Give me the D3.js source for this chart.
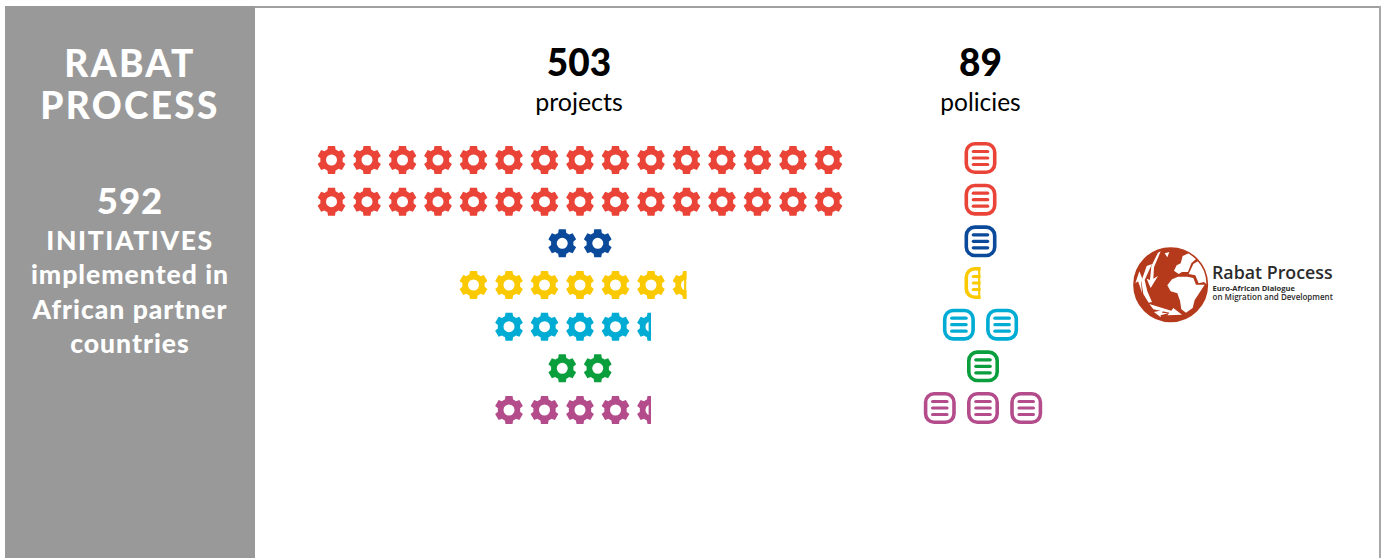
<!DOCTYPE html>
<html>
<head>
<meta charset="utf-8">
<title>Rabat Process</title>
<script src="https://cdn.jsdelivr.net/npm/d3@7"></script>
<style>
  html, body { margin: 0; padding: 0; background: #fff; }
  svg { display: block; }
  text { font-family: Lato, "Open Sans", sans-serif; }
</style>
</head>
<body>
<svg id="chart" width="1387" height="558"></svg>
<script>
  // ============================================================
  // Data
  // ============================================================

  const rows = ["row1", "row2", "row3", "row4", "row5", "row6", "row7"];
  const rowColors = ["#ea4438", "#ea4438", "#0b4a9b", "#fbc900", "#00acd4", "#0a9e3c", "#b44c8c"];
  // icon counts, half icons are cut on the right
  const projectIcons = [15, 15, 2, 6.5, 4.5, 2, 4.5];
  const policyIcons = [1, 1, 1, 0.5, 2, 1, 3];

  const totals = [
    { value: "503", label: "projects" },
    { value: "89", label: "policies" },
  ];
  const panelTitle = ["RABAT", "PROCESS"];
  const panelTotal = "592";
  const panelLines = ["INITIATIVES", "implemented in", "African partner", "countries"];

  // ============================================================
  // Layout
  // ============================================================

  const width = 1387, height = 558;
  const svg = d3.select("#chart");
  const gearStep = 35.5, gearWidth = 27;
  const policyStep = 43.2, policyWidth = 32;

  const gearY = d3.scalePoint().domain(rows).range([160, 410]);
  const policyY = d3.scalePoint().domain(rows).range([158, 408]);

  // slots are centred on the column, a cut icon still takes a full slot
  function slotX(n, centre, step) {
    return d3.scaleLinear().domain([0, 1]).range([centre - (n - 1) * step / 2, centre - (n - 1) * step / 2 + step]);
  }

  function iconSlots(count) {
    const n = Math.ceil(count);
    return d3.range(n).map(i => ({ i, n, part: Math.min(1, count - i) }));
  }

  // ============================================================
  // Icons
  // ============================================================

  function gearPath() {
    const outer = 14, body = 10.4, hole = 5.5, half = 3.5;
    let d = "";
    for (let k = 0; k < 6; k++) {
      const a = -Math.PI / 2 + k * Math.PI / 3;
      const ux = Math.cos(a), uy = Math.sin(a), nx = -uy, ny = ux;
      const foot = half + 0.6;
      const pts = [
        [ux * body - nx * foot, uy * body - ny * foot],
        [ux * outer - nx * half, uy * outer - ny * half],
        [ux * outer + nx * half, uy * outer + ny * half],
        [ux * body + nx * foot, uy * body + ny * foot],
      ];
      d += (k === 0 ? "M" : "L") + pts.map(p => p[0].toFixed(2) + "," + p[1].toFixed(2)).join("L");
      const b = a + Math.PI / 3;
      const next = [Math.cos(b) * body + Math.sin(b) * foot, Math.sin(b) * body - Math.cos(b) * foot];
      d += "A" + body + "," + body + " 0 0 1 " + next[0].toFixed(2) + "," + next[1].toFixed(2);
    }
    d += "Z M" + hole + ",0 A" + hole + "," + hole + " 0 1 0 " + (-hole) + ",0 A" + hole + "," + hole + " 0 1 0 " + hole + ",0 Z";
    return d;
  }

  const gearD = gearPath();

  function drawGear(g, color) {
    g.append("path").attr("d", gearD).attr("fill", color).attr("fill-rule", "evenodd");
  }

  function drawPolicy(g, color) {
    g.append("rect")
      .attr("x", -14.2).attr("y", -14.2)
      .attr("width", 28.4).attr("height", 28.4)
      .attr("rx", 8.5)
      .attr("fill", "#fff")
      .attr("stroke", color)
      .attr("stroke-width", 3.6);
    [-6.5, 0, 6.5].forEach(dy => {
      g.append("line")
        .attr("x1", -7.2).attr("x2", 7.2)
        .attr("y1", dy).attr("y2", dy)
        .attr("stroke", color)
        .attr("stroke-width", 3.2)
        .attr("stroke-linecap", "round");
    });
  }

  let clipCount = 0;
  function drawColumn(counts, yScale, centre, step, iconWidth, drawIcon, xShift) {
    const layer = svg.append("g");
    rows.forEach((row, r) => {
      const slots = iconSlots(counts[r]);
      slots.forEach(s => {
        const x = slotX(s.n, centre + xShift(r), step)(s.i);
        const y = yScale(row);
        const g = layer.append("g").attr("transform", `translate(${x},${y})`);
        if (s.part < 1) {
          const id = "cut" + (clipCount++);
          const cutW = iconWidth * s.part;
          svg.append("clipPath").attr("id", id).append("rect")
            .attr("x", -iconWidth / 2 - 2).attr("y", -20)
            .attr("width", cutW + 2).attr("height", 40);
          g.attr("clip-path", `url(#${id})`);
          drawIcon(g, rowColors[r]);
          // cut icons end in a straight solid edge
          g.append("rect")
            .attr("x", -iconWidth / 2 + cutW - 2.4).attr("y", -iconWidth / 2)
            .attr("width", 2.4).attr("height", iconWidth)
            .attr("fill", rowColors[r]);
        } else {
          drawIcon(g, rowColors[r]);
        }
      });
    });
  }

  // ============================================================
  // Frame and left panel
  // ============================================================

  svg.append("rect").attr("x", 255).attr("y", 6).attr("width", 1126).attr("height", 2).attr("fill", "#a0a0a0");
  svg.append("rect").attr("x", 1379).attr("y", 6).attr("width", 2).attr("height", 552).attr("fill", "#a8a8a8");
  svg.append("rect").attr("x", 5).attr("y", 6).attr("width", 250).attr("height", 552).attr("fill", "#999999");

  const panelX = 130;

  svg.selectAll(".panel-title").data(panelTitle).enter().append("text")
    .attr("class", "panel-title")
    .attr("x", panelX)
    .attr("y", (d, i) => 76.5 + i * 42)
    .attr("text-anchor", "middle")
    .attr("fill", "#fff")
    .attr("font-size", 37)
    .attr("font-weight", 900)
    .attr("letter-spacing", 2.3)
    .text(d => d);

  svg.append("text")
    .attr("x", panelX).attr("y", 214)
    .attr("text-anchor", "middle")
    .attr("fill", "#fff")
    .attr("font-size", 36.5)
    .attr("font-weight", 900)
    .attr("letter-spacing", 1)
    .text(panelTotal);

  svg.selectAll(".panel-line").data(panelLines).enter().append("text")
    .attr("class", "panel-line")
    .attr("x", panelX)
    .attr("y", (d, i) => 249.5 + i * 34.5)
    .attr("text-anchor", "middle")
    .attr("fill", "#fff")
    .attr("font-size", 26.5)
    .attr("font-weight", 900)
    .attr("letter-spacing", (d, i) => i === 0 ? 1.6 : 1)
    .text(d => d);

  // ============================================================
  // Column heads and icons
  // ============================================================

  const columnCentres = [580, 980.5];

  totals.forEach((t, i) => {
    svg.append("text")
      .attr("x", columnCentres[i] - (i === 0 ? 1 : 0)).attr("y", 76)
      .attr("text-anchor", "middle")
      .attr("fill", "#000")
      .attr("font-size", 37)
      .attr("font-weight", 900)
      .text(t.value);
    svg.append("text")
      .attr("x", columnCentres[i] - (i === 0 ? 1 : 0)).attr("y", 111)
      .attr("text-anchor", "middle")
      .attr("fill", "#000")
      .attr("font-size", i === 0 ? 25 : 24.5)
      .text(t.label);
  });

  drawColumn(projectIcons, gearY, columnCentres[0], gearStep, gearWidth, drawGear, () => 0);
  // the lower green and purple policy rows sit a little to the right
  drawColumn(policyIcons, policyY, columnCentres[1], policyStep, policyWidth, drawPolicy, r => (r === 5 || r === 6) ? 2.5 : 0);

  // ============================================================
  // Logo
  // ============================================================

  const logoRed = "#b5391b";
  const logo = svg.append("g").attr("transform", "translate(1130,244) scale(0.3333)");
  logo.append("circle").attr("cx", 122).attr("cy", 122).attr("r", 110).attr("fill", logoRed);

  const logoWhite = [
    // africa
    "M112,124 L126,106 L144,98 L172,98 L190,102 L198,122 L224,122 L206,150 L194,168 L188,192 L168,206 L154,196 L150,170 L142,148 L122,142 Z",
    // asia, cut by the rim
    "M176,90 L190,60 L206,50 L230,90 L232,122 L222,114 L206,118 L196,94 Z",
    // europe
    "M132,80 L140,64 L152,58 L158,36 L176,28 L188,18 L206,38 L184,58 L174,84 L156,84 L146,90 Z",
    // left arrows
    "M50,66 L66,60 L44,108 L52,142 L66,174 L56,176 L40,150 L34,112 Z",
    "M84,26 L92,22 L72,70 L70,104 L84,96 L62,132 L50,104 L60,108 L64,66 Z",
    "M28,82 L42,116 L33,112 L36,148 L30,128 L24,112 L16,118 Z",
    // bottom arrows
    "M58,180 L124,200 L130,192 L156,212 L112,214 L118,206 L70,196 Z",
    "M72,204 L100,198 L96,206 L114,208 L92,214 L92,220 Z",
    "M104,28 L118,24 L112,40 Z",
  ];
  logo.selectAll(".logo-white").data(logoWhite).enter().append("path")
    .attr("class", "logo-white")
    .attr("d", d => d)
    .attr("fill", "#fff");
  logo.append("circle").attr("cx", 122).attr("cy", 122).attr("r", 110)
    .attr("fill", "none").attr("stroke", logoRed).attr("stroke-width", 5);

  svg.append("text")
    .attr("x", 1212).attr("y", 278.5)
    .attr("fill", "#2b2b2b")
    .style("font-family", "'Open Sans', sans-serif")
    .attr("font-size", 17.8)
    .attr("font-weight", 600)
    .text("Rabat Process");
  svg.append("text")
    .attr("x", 1212.5).attr("y", 290.5)
    .attr("fill", "#2b2b2b")
    .style("font-family", "'Open Sans', sans-serif")
    .attr("font-size", 7.6)
    .attr("font-weight", 700)
    .text("Euro-African Dialogue");
  svg.append("text")
    .attr("x", 1212.5).attr("y", 300)
    .attr("fill", "#2b2b2b")
    .style("font-family", "'Open Sans', sans-serif")
    .attr("font-size", 8)
    .attr("font-weight", 600)
    .text("on Migration and Development");
</script>
</body>
</html>
